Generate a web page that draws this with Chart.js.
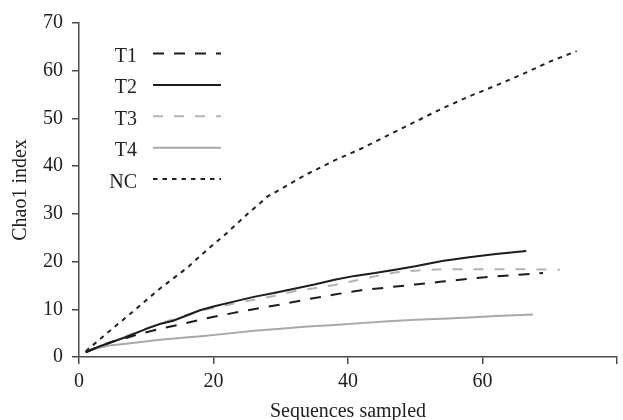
<!DOCTYPE html>
<html>
<head>
<meta charset="utf-8">
<script src="https://cdn.jsdelivr.net/npm/chart.js@4.4.1/dist/chart.umd.min.js"></script>
<style>
  html, body { margin: 0; padding: 0; background: #ffffff; }
  #c { display: block; }
</style>
</head>
<body>
<canvas id="c" width="623" height="420"></canvas>
<script>
// ---- data ----
const seriesNames = ["T1", "T2", "T3", "T4", "NC"];

const t1X = [1, 3, 5, 7, 9, 12, 15, 18, 21, 24, 27, 30, 34, 38, 42, 46, 50, 54, 58, 62, 66, 69];
const t1Y = [1, 2.2, 3.2, 4.0, 4.8, 5.9, 6.8, 7.8, 8.7, 9.5, 10.3, 11.0, 12.1, 13.1, 14.0, 14.6, 15.2, 15.8, 16.4, 16.9, 17.3, 17.6];

const t2X = [1, 3, 5, 7, 10, 12, 14, 16, 18, 20, 23, 26, 29, 32, 35, 38, 41, 44, 47, 50, 54, 58, 62, 66.5];
const t2Y = [1, 2.2, 3.2, 4.2, 5.9, 6.9, 7.6, 8.7, 9.8, 10.6, 11.6, 12.6, 13.4, 14.3, 15.2, 16.2, 17.0, 17.6, 18.3, 19.0, 20.1, 20.9, 21.6, 22.2];

const t3X = [1, 3, 5, 7, 10, 12, 14, 16, 18, 20, 23, 26, 29, 32, 35, 38, 41, 44, 47, 50, 54, 58, 62, 66, 71.5];
const t3Y = [1, 2.3, 3.3, 4.3, 6.0, 7.0, 7.9, 8.8, 9.6, 10.3, 11.2, 12.0, 12.8, 13.8, 14.4, 15.1, 16.0, 16.9, 17.7, 18.1, 18.4, 18.4, 18.4, 18.4, 18.3];

const t4X = [1, 2.5, 4.5, 7, 9.5, 12, 15, 18.5, 22, 26, 30, 34, 38, 42, 46, 50, 54, 58, 62, 67.5];
const t4Y = [1, 1.8, 2.4, 2.8, 3.2, 3.6, 4.0, 4.4, 4.9, 5.5, 5.9, 6.4, 6.7, 7.1, 7.5, 7.8, 8.0, 8.3, 8.6, 8.9];

const ncX = [1, 4, 8, 12, 16, 19, 22, 25, 28, 31, 34, 38, 42, 46, 50, 54, 58, 62, 66, 70, 74];
const ncY = [1.2, 4.8, 9.5, 14.3, 18.6, 22.4, 26.0, 29.9, 33.6, 36.0, 38.4, 41.2, 43.7, 46.5, 49.3, 52.1, 54.6, 56.9, 59.3, 61.9, 64.1];

const xTickLabels = [0, 20, 40, 60];
const yTickLabels = [0, 10, 20, 30, 40, 50, 60, 70];
const xTitle = "Sequences sampled";
const yTitle = "Chao1 index";

// ---- build ----
function pts(xs, ys) { return xs.map((x, i) => ({ x: x, y: ys[i] })); }

const styles = [
  { color: "#1c1c1c", dash: [11, 10] },
  { color: "#1c1c1c", dash: [] },
  { color: "#b3b3b3", dash: [10, 11] },
  { color: "#a9a9a9", dash: [] },
  { color: "#222222", dash: [4.5, 5] }
];
const allData = [pts(t1X, t1Y), pts(t2X, t2Y), pts(t3X, t3Y), pts(t4X, t4Y), pts(ncX, ncY)];

const datasets = seriesNames.map((name, i) => ({
  label: name,
  data: allData[i],
  borderColor: styles[i].color,
  backgroundColor: styles[i].color,
  borderDash: styles[i].dash,
  borderWidth: 2,
  pointRadius: 0,
  tension: 0,
  fill: false
}));

const FONT = "'Liberation Serif', 'Times New Roman', serif";
const AXIS = "#4a4a4a";

const legendPlugin = {
  id: "insideLegend",
  afterDraw(chart) {
    const ctx = chart.ctx;
    ctx.save();
    ctx.font = "20px " + FONT;
    ctx.textAlign = "right";
    ctx.textBaseline = "alphabetic";
    chart.data.datasets.forEach((ds, i) => {
      const y = 53.5 + i * 31.4;
      ctx.fillStyle = "#222";
      ctx.fillText(ds.label, 137, y + 8.5);
      ctx.beginPath();
      ctx.setLineDash(ds.borderDash || []);
      ctx.strokeStyle = ds.borderColor;
      ctx.lineWidth = ds.borderWidth;
      ctx.moveTo(153, y);
      ctx.lineTo(221, y);
      ctx.stroke();
    });
    ctx.restore();
  }
};

new Chart(document.getElementById("c"), {
  type: "line",
  data: { datasets: datasets },
  plugins: [legendPlugin],
  options: {
    responsive: false,
    animation: false,
    devicePixelRatio: 1,
    layout: { padding: { top: 23, right: 1, left: 0, bottom: 0 } },
    plugins: { legend: { display: false }, tooltip: { enabled: false } },
    scales: {
      x: {
        type: "linear",
        min: 0,
        max: 80,
        afterFit(scale) { scale.height = 63; },
        ticks: {
          stepSize: 20,
          padding: 6,
          color: "#222",
          font: { family: FONT, size: 20 },
          maxRotation: 0,
          callback: (v) => xTickLabels.includes(v) ? String(v) : ""
        },
        grid: { drawOnChartArea: false, drawTicks: true, tickLength: 7, color: AXIS, lineWidth: 1.5 },
        border: { display: true, color: AXIS, width: 1.5 },
        title: {
          display: true,
          text: xTitle,
          color: "#222",
          font: { family: FONT, size: 20 },
          padding: { top: 0, bottom: -4 }
        }
      },
      y: {
        type: "linear",
        min: 0,
        max: 70,
        afterFit(scale) { scale.width = 79; },
        ticks: {
          stepSize: 10,
          padding: 9,
          color: "#222",
          font: { family: FONT, size: 20 },
          callback: (v) => yTickLabels.includes(v) ? String(v) : ""
        },
        grid: { drawOnChartArea: false, drawTicks: true, tickLength: 7, color: AXIS, lineWidth: 1.5 },
        border: { display: true, color: AXIS, width: 1.5 },
        title: {
          display: true,
          text: yTitle,
          color: "#222",
          font: { family: FONT, size: 20 },
          padding: { top: 9, bottom: 0 }
        }
      }
    }
  }
});
</script>
</body>
</html>
